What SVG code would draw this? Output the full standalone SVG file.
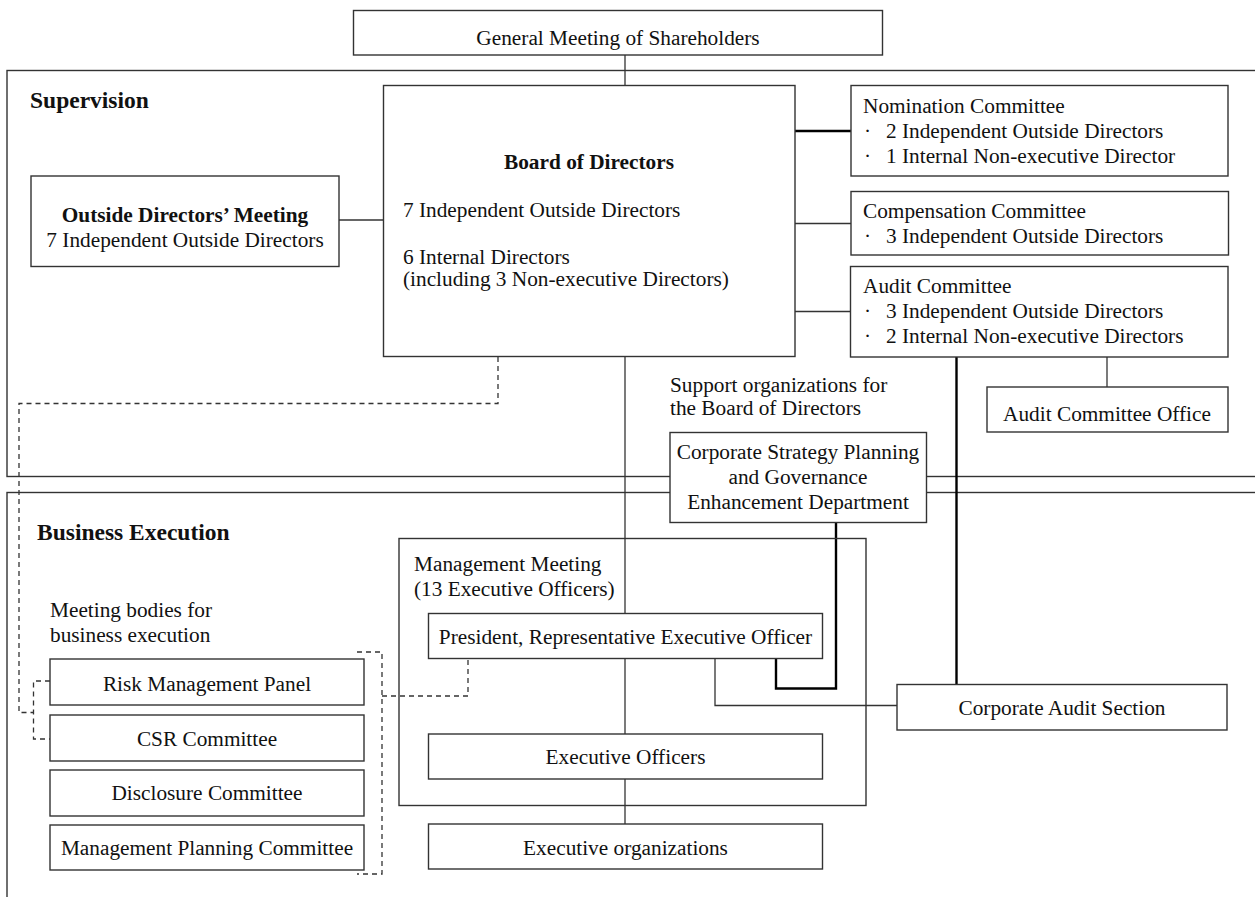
<svg xmlns="http://www.w3.org/2000/svg" width="1255" height="897" viewBox="0 0 1255 897">
<style>
.box{fill:#fff;stroke:#333;stroke-width:1.4}
.frame{fill:none;stroke:#333;stroke-width:1.4}
.ln{fill:none;stroke:#333;stroke-width:1.3}
.thick{fill:none;stroke:#000;stroke-width:2.4}
.dash{fill:none;stroke:#333;stroke-width:1.3;stroke-dasharray:5,4}
text{font-family:"Liberation Serif","Times New Roman",serif;font-size:21.3px;fill:#111}
.c{text-anchor:middle}
.b{font-weight:bold}
.sec{font-weight:bold;font-size:23.5px}
</style>
<rect width="1255" height="897" fill="#fff"/>
<g id="frames">
<rect class="frame" x="7" y="70.5" width="1270" height="406"/>
<rect class="frame" x="7" y="492.5" width="1270" height="430"/>
<text class="sec" x="30" y="108">Supervision</text>
<text class="sec" x="37" y="540">Business Execution</text>
<text x="670" y="392">Support organizations for</text>
<text x="670" y="415">the Board of Directors</text>
<text x="50" y="617">Meeting bodies for</text>
<text x="50" y="642">business execution</text>
</g>
<g id="connectors">
<line class="ln" x1="625" y1="55" x2="625" y2="86"/>
<line class="ln" x1="339" y1="220" x2="384" y2="220"/>
<line class="thick" x1="795" y1="131" x2="851" y2="131"/>
<line class="ln" x1="795" y1="223.5" x2="851" y2="223.5"/>
<line class="ln" x1="795" y1="311.5" x2="851" y2="311.5"/>
<line class="ln" x1="1107" y1="357" x2="1107" y2="387"/>
<line class="thick" x1="956.5" y1="357" x2="956.5" y2="684"/>
<line class="ln" x1="625" y1="357" x2="625" y2="613"/>
<line class="ln" x1="625" y1="659" x2="625" y2="734"/>
<line class="ln" x1="625" y1="779" x2="625" y2="824"/>
<polyline class="thick" points="836,522.5 836,688.5 776,688.5 776,659"/>
<polyline class="ln" points="715,659 715,705.5 897,705.5"/>
<polyline class="dash" points="498,357 498,403.5 19,403.5 19,712.5 33,712.5"/>
<polyline class="dash" points="50,681 33.5,681 33.5,739 50,739"/>
<polyline class="dash" points="357,652 382,652 382,874 357,874"/>
<polyline class="dash" points="382,696 468,696 468,659"/>
</g>
<g id="gm">
<rect class="box" x="353.5" y="10.5" width="529" height="44.5"/>
<text class="c" x="618" y="45">General Meeting of Shareholders</text>
</g>
<g id="board">
<rect class="box" x="383.5" y="85.5" width="411.5" height="271"/>
<text class="c b" x="589" y="169">Board of Directors</text>
<text x="403" y="217">7 Independent Outside Directors</text>
<text x="403" y="264">6 Internal Directors</text>
<text x="403" y="286">(including 3 Non-executive Directors)</text>
</g>
<g id="outside">
<rect class="box" x="31" y="176" width="308" height="90.5"/>
<text class="c b" x="185" y="222">Outside Directors’ Meeting</text>
<text class="c" x="185" y="247">7 Independent Outside Directors</text>
</g>
<g id="nomination">
<rect class="box" x="851" y="85.5" width="377" height="90.5"/>
<text x="863" y="113">Nomination Committee</text>
<text y="138"><tspan x="864">·</tspan><tspan x="886">2 Independent Outside Directors</tspan></text>
<text y="163"><tspan x="864">·</tspan><tspan x="886">1 Internal Non-executive Director</tspan></text>
</g>
<g id="compensation">
<rect class="box" x="851" y="191.5" width="377.5" height="63.5"/>
<text x="863" y="218">Compensation Committee</text>
<text y="243"><tspan x="864">·</tspan><tspan x="886">3 Independent Outside Directors</tspan></text>
</g>
<g id="audit">
<rect class="box" x="850.5" y="266.5" width="377.5" height="90.5"/>
<text x="863" y="293">Audit Committee</text>
<text y="318"><tspan x="864">·</tspan><tspan x="886">3 Independent Outside Directors</tspan></text>
<text y="343"><tspan x="864">·</tspan><tspan x="886">2 Internal Non-executive Directors</tspan></text>
</g>
<g id="audit-office">
<rect class="box" x="987" y="387" width="241" height="45"/>
<text class="c" x="1107" y="421">Audit Committee Office</text>
</g>
<g id="csp">
<rect class="box" x="670" y="432.5" width="256.5" height="90"/>
<text class="c" x="798" y="459">Corporate Strategy Planning</text>
<text class="c" x="798" y="484">and Governance</text>
<text class="c" x="798" y="509">Enhancement Department</text>
</g>
<g id="mgmt-meeting">
<rect class="frame" x="399" y="538.5" width="467" height="267"/>
<text x="414" y="571">Management Meeting</text>
<text x="414" y="596">(13 Executive Officers)</text>
</g>
<g id="president">
<rect class="box" x="428.5" y="613.5" width="394" height="45"/>
<text class="c" x="625.5" y="644">President, Representative Executive Officer</text>
</g>
<g id="exec-officers">
<rect class="box" x="428.5" y="734" width="394" height="45"/>
<text class="c" x="625.5" y="764">Executive Officers</text>
</g>
<g id="exec-orgs">
<rect class="box" x="428.5" y="824" width="394" height="45"/>
<text class="c" x="625.5" y="855">Executive organizations</text>
</g>
<g id="corp-audit">
<rect class="box" x="897" y="684.5" width="330" height="45.5"/>
<text class="c" x="1062" y="715">Corporate Audit Section</text>
</g>
<g id="risk">
<rect class="box" x="50" y="659" width="314" height="46"/>
<text class="c" x="207" y="691">Risk Management Panel</text>
</g>
<g id="csr">
<rect class="box" x="50" y="715" width="314" height="46"/>
<text class="c" x="207" y="746">CSR Committee</text>
</g>
<g id="disclosure">
<rect class="box" x="50" y="770" width="314" height="46"/>
<text class="c" x="207" y="800">Disclosure Committee</text>
</g>
<g id="mpc">
<rect class="box" x="50" y="825" width="314" height="45"/>
<text class="c" x="207" y="855">Management Planning Committee</text>
</g>
</svg>
